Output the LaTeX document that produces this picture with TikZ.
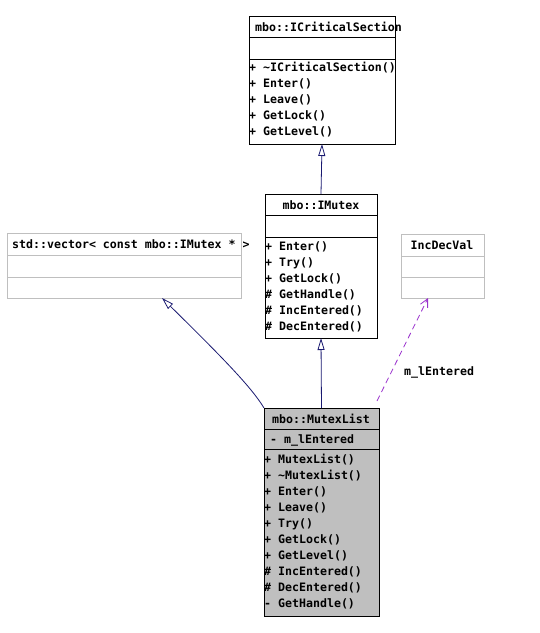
\documentclass[tikz,border=0pt]{standalone}
\usepackage{fontspec}
\setmonofont{DejaVu Sans Mono}
\usepackage{tikz}
\usetikzlibrary{calc,arrows.meta,positioning}
\definecolor{inhcol}{RGB}{25,25,112}
\definecolor{usecol}{RGB}{154,50,205}
\definecolor{boxgray}{RGB}{191,191,191}
\tikzset{
	umlbox/.style={draw=black,line width=0.8pt,anchor=north west,inner sep=0pt,outer sep=0pt},
	extbox/.style={umlbox,draw=boxgray},
	mtext/.style={anchor=west,inner sep=0pt,font=\ttfamily\bfseries\fontsize{11.6}{12}\selectfont},
	ttext/.style={mtext,anchor=center},
	inherit/.style={draw=inhcol,line width=0.8pt,-{Triangle[open,length=12pt,width=7pt,fill=white]}},
	uses/.style={draw=usecol,line width=0.8pt,dash pattern=on 6pt off 4pt,-{Straight Barb[length=8pt,width=8pt]}}
}
\begin{document}
\begin{tikzpicture}[x=1pt,y=-1pt]
		\useasboundingbox (0,0) rectangle (540,633);
		% mbo::ICriticalSection
		\node[umlbox,minimum width=146pt,minimum height=128pt] (crit) at (249,16) {};
		\draw (249,37)--(395,37) (249,59)--(395,59);
		\node[mtext] (crittitle) at (255,27) {mbo::ICriticalSection};
		\foreach \m [count=\i] in {+ \textasciitilde ICriticalSection(),+ Enter(),+ Leave(),+ GetLock(),+ GetLevel()}
		\node[mtext] at (249,{68+16*(\i-1)}) {\m};
		% mbo::IMutex
		\node[umlbox,minimum width=112pt,minimum height=144pt] (imutex) at (265,194) {};
		\draw (265,215)--(377,215) (265,237)--(377,237);
		\node[ttext] (imutextitle) at (321,205) {mbo::IMutex};
		\foreach \m [count=\i] in {+ Enter(),+ Try(),+ GetLock(),\# GetHandle(),\# IncEntered(),\# DecEntered()}
		\node[mtext] at (265,{247+16*(\i-1)}) {\m};
		% std::vector
		\node[extbox,minimum width=234pt,minimum height=65pt] (vec) at (7,233) {};
		\draw[boxgray] (7,255)--(241,255) (7,277)--(241,277);
		\node[mtext] (vectitle) at (12,244) {std::vector< const mbo::IMutex * >};
		% IncDecVal
		\node[extbox,minimum width=83pt,minimum height=64pt] (incdec) at (401,234) {};
		\draw[boxgray] (401,256)--(484,256) (401,277)--(484,277);
		\node[ttext] (incdectitle) at (442,245) {IncDecVal};
		% mbo::MutexList
		\node[umlbox,fill=boxgray,minimum width=115pt,minimum height=208pt] (mlist) at (264,408) {};
		\draw (264,429)--(379,429) (264,449)--(379,449);
		\node[ttext] (mlisttitle) at (321,419) {mbo::MutexList};
		\node[mtext] (mlistattr) at (270,440) {- m\_lEntered};
		\foreach \m [count=\i] in {+ MutexList(),+ \textasciitilde MutexList(),+ Enter(),+ Leave(),+ Try(),+ GetLock(),+ GetLevel(),\# IncEntered(),\# DecEntered(),- GetHandle()}
		\node[mtext] at (264,{460+16*(\i-1)}) {\m};
		% connectors
		\coordinate (vectip) at (162,298);
		\coordinate (inctip) at (428,298);
		\coordinate (usestart) at (377,401);
		\draw[inherit] (imutex.north) -- (crit.south);
		\draw[inherit] (mlist.north) -- (imutex.south);
		\draw[inherit] (mlist.north west) .. controls (252,388) and (225,360) .. (vectip);
		\draw[uses] (usestart) -- (inctip);
		\node[mtext] (uselabel) at (404,372) {m\_lEntered};
\end{tikzpicture}
\end{document}
